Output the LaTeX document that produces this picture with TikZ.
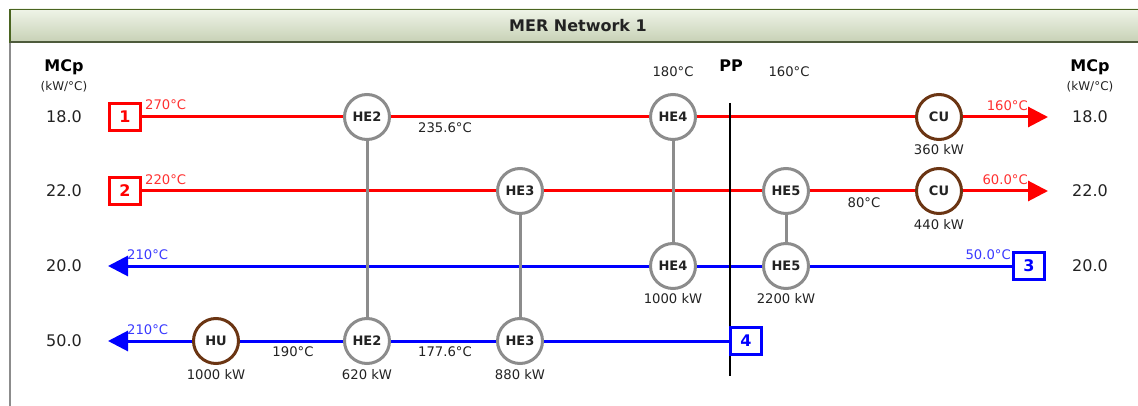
\documentclass[tikz,border=0pt]{standalone}
\usepackage{fontspec}
\setmainfont{DejaVu Sans}
\usetikzlibrary{arrows.meta}
\definecolor{hxgray}{HTML}{8C8C8C}
\definecolor{utilbrown}{HTML}{6B3513}
\definecolor{txtdark}{HTML}{222222}
\definecolor{barborder}{HTML}{4A6420}
\definecolor{barbottom}{HTML}{4E5B3C}
\definecolor{bartop}{HTML}{EFF4E8}
\definecolor{barbot}{HTML}{C6D0B4}
\definecolor{hotred}{HTML}{FF0000}
\definecolor{coldblue}{HTML}{0000FF}
\definecolor{hotlabc}{HTML}{FF3030}
\definecolor{coldlabc}{HTML}{3A3AFF}
\pgfdeclarelayer{bg}
\pgfsetlayers{bg,main}
\begin{document}
\begin{tikzpicture}[x=1pt,y=-1pt,
 hx/.style={circle,draw=hxgray,line width=3pt,fill=white,minimum size=45pt,inner sep=0pt,font=\fontsize{13}{15}\selectfont\bfseries,text=txtdark},
 ut/.style={hx,draw=utilbrown},
 sbox/.style={draw,line width=2.6pt,fill=white,minimum width=31pt,minimum height=27pt,inner sep=0pt,font=\fontsize{16}{18}\selectfont\bfseries},
 hotbox/.style={sbox,draw=hotred,text=hotred},
 coldbox/.style={sbox,draw=coldblue,text=coldblue},
 hotline/.style={draw=hotred,line width=3pt},
 coldline/.style={draw=coldblue,line width=3pt},
 link/.style={draw=hxgray,line width=3pt},
 tipend/.style={-{Triangle[length=20pt,width=20pt]}},
 lab/.style={font=\fontsize{13.2}{15}\selectfont,text=txtdark,inner sep=0pt},
 hotlab/.style={lab,text=hotlabc},
 coldlab/.style={lab,text=coldlabc},
 mcpval/.style={font=\fontsize{16}{18}\selectfont,text=txtdark,inner sep=0pt},
 mcphead/.style={font=\fontsize{16}{18}\selectfont\bfseries,text=black,inner sep=0pt},
 mcpunit/.style={font=\fontsize{12}{13}\selectfont,text=txtdark,inner sep=0pt},
]
\useasboundingbox (0,0) rectangle (1138,406);
% title bar
\shade[top color=bartop,bottom color=barbot] (10,9) rectangle (1145,43);
\draw[barborder,line width=1.5pt] (10,43) -- (10,9.5) -- (1145,9.5);
\draw[barbottom,line width=2pt] (10,42.5) -- (1145,42.5);
\node[font=\fontsize{16}{18}\selectfont\bfseries,text=txtdark,inner sep=0pt] (title) at (578,26) {MER Network 1};
% left panel border
\draw[hxgray,line width=1.5pt] (10,43) -- (10,406);

% MCp headers
\node[mcphead] (mcpl) at (64,67) {MCp};
\node[mcpunit] (mcplu) at (64,87) {(kW/°C)};
\node[mcphead] (mcpr) at (1090,67) {MCp};
\node[mcpunit] (mcpru) at (1090,87) {(kW/°C)};
\node[mcpval] (l1) at (64,117) {18.0};
\node[mcpval] (l2) at (64,191) {22.0};
\node[mcpval] (l3) at (64,266) {20.0};
\node[mcpval] (l4) at (64,341) {50.0};
\node[mcpval] (r1) at (1090,117) {18.0};
\node[mcpval] (r2) at (1090,191) {22.0};
\node[mcpval] (r3) at (1090,266) {20.0};

% PP label
\node[mcphead] (pp) at (731,66) {PP};
\node[lab] (tpl) at (673,72) {180°C};
\node[lab] (tpr) at (789,72) {160°C};

% stream boxes
\node[hotbox] (b1) at (125,117) {1};
\node[hotbox] (b2) at (125,191) {2};
\node[coldbox] (b3) at (1029,266) {3};
\node[coldbox] (b4) at (746,341) {4};

% exchangers
\node[hx] (he2t) at (367,117) {HE2};
\node[hx] (he4t) at (673,117) {HE4};
\node[ut] (cu1) at (939,117) {CU};
\node[hx] (he3t) at (520,191) {HE3};
\node[hx] (he5t) at (786,191) {HE5};
\node[ut] (cu2) at (939,191) {CU};
\node[hx] (he4b) at (673,266) {HE4};
\node[hx] (he5b) at (786,266) {HE5};
\node[ut] (hu) at (216,341) {HU};
\node[hx] (he2b) at (367,341) {HE2};
\node[hx] (he3b) at (520,341) {HE3};

\coordinate (e1) at (1048,117);
\coordinate (e2) at (1048,191);
\coordinate (e3) at (108,266);
\coordinate (e4) at (108,341);
\coordinate (ppt) at (730,103);
\coordinate (ppb) at (730,376);

\begin{pgfonlayer}{bg}
\draw[hotline] (b1) -- (he2t) -- (he4t) -- (cu1);
\draw[hotline,tipend] (cu1) -- (e1);
\draw[hotline] (b2) -- (he3t) -- (he5t) -- (cu2);
\draw[hotline,tipend] (cu2) -- (e2);
\draw[coldline] (b3) -- (he5b) -- (he4b);
\draw[coldline,tipend] (he4b) -- (e3);
\draw[coldline] (b4) -- (he3b) -- (he2b) -- (hu);
\draw[coldline,tipend] (hu) -- (e4);
\draw[link] (he2t) -- (he2b);
\draw[link] (he3t) -- (he3b);
\draw[link] (he4t) -- (he4b);
\draw[link] (he5t) -- (he5b);
\draw[black,line width=2.5pt] (ppt) -- (ppb);
\end{pgfonlayer}

% temperature labels
\node[hotlab,anchor=west] (t270) at (145,105) {270°C};
\node[hotlab,anchor=west] (t220) at (145,180) {220°C};
\node[hotlab,anchor=east] (t160) at (1028,106) {160°C};
\node[hotlab,anchor=east] (t60) at (1028,180) {60.0°C};
\node[coldlab,anchor=west] (t210a) at (127,255) {210°C};
\node[coldlab,anchor=west] (t210b) at (127,330) {210°C};
\node[coldlab,anchor=east] (t50) at (1011,255) {50.0°C};
\node[lab] (t2356) at (445,128) {235.6°C};
\node[lab] (t80) at (864,203) {80°C};
\node[lab] (t190) at (293,352) {190°C};
\node[lab] (t1776) at (445,352) {177.6°C};

% duties
\node[lab] (q1) at (939,150) {360 kW};
\node[lab] (q2) at (939,225) {440 kW};
\node[lab] (q3) at (673,299) {1000 kW};
\node[lab] (q4) at (786,299) {2200 kW};
\node[lab] (q5) at (216,375) {1000 kW};
\node[lab] (q6) at (367,375) {620 kW};
\node[lab] (q7) at (520,375) {880 kW};
\end{tikzpicture}
\end{document}
